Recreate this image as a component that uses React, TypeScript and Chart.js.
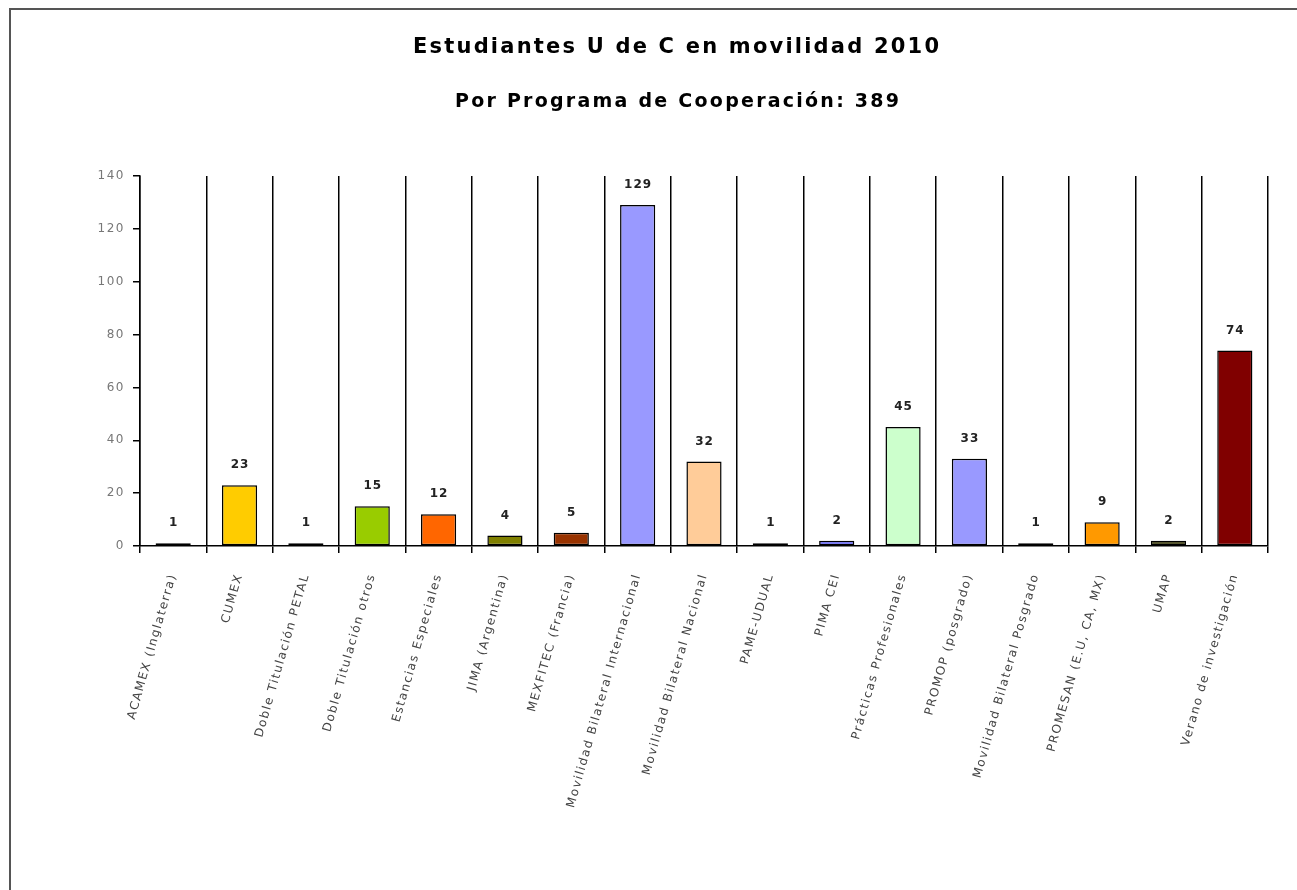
import React, { useEffect, useRef } from "react";
import { Chart, registerables } from "chart.js";

Chart.register(...registerables);

const titleText = "Estudiantes U de C en movilidad 2010";
const subtitleText = "Por Programa de Cooperación: 389";

const categories = [
  "ACAMEX (Inglaterra)",
  "CUMEX",
  "Doble Titulación PETAL",
  "Doble Titulación otros",
  "Estancias Especiales",
  "JIMA (Argentina)",
  "MEXFITEC (Francia)",
  "Movilidad Bilateral Internacional",
  "Movilidad Bilateral Nacional",
  "PAME-UDUAL",
  "PIMA CEI",
  "Prácticas Profesionales",
  "PROMOP (posgrado)",
  "Movilidad Bilateral Posgrado",
  "PROMESAN (E.U, CA, MX)",
  "UMAP",
  "Verano de investigación",
];

const values = [1, 23, 1, 15, 12, 4, 5, 129, 32, 1, 2, 45, 33, 1, 9, 2, 74];

const barColors = [
  "#FFFF99",
  "#FFCC00",
  "#CCFFCC",
  "#99CC00",
  "#FF6600",
  "#808000",
  "#993300",
  "#9999FF",
  "#FFCC99",
  "#CC66FF",
  "#6666FF",
  "#CCFFCC",
  "#9999FF",
  "#66AAEE",
  "#FF9900",
  "#333300",
  "#800000",
];

const yMin = 0;
const yMax = 140;
const yStep = 20;

function drawSpaced(ctx: CanvasRenderingContext2D, text: string, cx: number, cy: number, font: string, targetWidth: number) {
  ctx.save();
  ctx.font = font;
  (ctx as any).letterSpacing = "0px";
  const w0 = ctx.measureText(text).width;
  const sp = (targetWidth - w0) / Math.max(1, text.length - 1);
  (ctx as any).letterSpacing = sp + "px";
  ctx.fillStyle = "#000";
  ctx.textAlign = "left";
  ctx.textBaseline = "middle";
  ctx.fillText(text, cx - targetWidth / 2, cy);
  ctx.restore();
}

const framePlugin = {
  id: "frameAndTitles",
  beforeDraw(chart: any) {
    const ctx = chart.ctx as CanvasRenderingContext2D;
    ctx.save();
    ctx.fillStyle = "#fff";
    ctx.fillRect(0, 0, chart.width, chart.height);
    ctx.strokeStyle = "#555";
    ctx.lineWidth = 2;
    ctx.beginPath();
    ctx.moveTo(10, chart.height + 5);
    ctx.lineTo(10, 9);
    ctx.lineTo(chart.width + 5, 9);
    ctx.stroke();
    ctx.restore();
    drawSpaced(ctx, titleText, 676, 48, 'bold 21px "DejaVu Sans"', 526);
    drawSpaced(ctx, subtitleText, 677, 102, 'bold 19px "DejaVu Sans"', 444);
    (ctx as any).letterSpacing = "1.5px";
  },
  afterDraw(chart: any) {
    (chart.ctx as any).letterSpacing = "0px";
  },
};

const valueLabelPlugin = {
  id: "valueLabels",
  afterDatasetsDraw(chart: any) {
    const ctx = chart.ctx as CanvasRenderingContext2D;
    const meta = chart.getDatasetMeta(0);
    ctx.save();
    ctx.font = 'bold 12px "DejaVu Sans"';
    (ctx as any).letterSpacing = "1px";
    ctx.fillStyle = "#222";
    ctx.textAlign = "center";
    ctx.textBaseline = "middle";
    meta.data.forEach((bar: any, i: number) => {
      ctx.fillText(String(values[i]), bar.x + 0.5, bar.y - 20);
    });
    ctx.restore();
  },
};

export default function App() {
  const ref = useRef<HTMLCanvasElement | null>(null);

  useEffect(() => {
    if (!ref.current) return;
    const chart = new Chart(ref.current, {
      type: "bar",
      data: {
        labels: categories,
        datasets: [
          {
            data: values,
            backgroundColor: barColors,
            borderColor: "#000",
            borderWidth: 1.5,
            borderSkipped: false,
            barPercentage: 0.53,
            categoryPercentage: 1,
          },
        ],
      },
      options: {
        responsive: false,
        animation: false,
        devicePixelRatio: 1,
        layout: { padding: { left: 0, right: 29, top: 176, bottom: 0 } },
        plugins: {
          legend: { display: false },
          title: { display: false },
          tooltip: { enabled: false },
        },
        scales: {
          x: {
            offset: true,
            grid: {
              offset: true,
              display: true,
              drawOnChartArea: true,
              drawTicks: true,
              tickLength: 7,
              color: "#000",
              lineWidth: 1.5,
            },
            border: { display: true, color: "#000", width: 1.5 },
            ticks: {
              autoSkip: false,
              minRotation: 74,
              maxRotation: 74,
              padding: 19,
              color: "#444",
              font: { family: "DejaVu Sans", size: 12 },
            },
            afterFit(scale: any) {
              scale.height = 344;
            },
          },
          y: {
            min: yMin,
            max: yMax,
            grid: {
              display: true,
              drawOnChartArea: false,
              drawTicks: true,
              tickLength: 7,
              color: "#000",
              lineWidth: 1.5,
            },
            border: { display: true, color: "#000", width: 1.5 },
            ticks: {
              stepSize: yStep,
              padding: 8,
              color: "#777",
              font: { family: "DejaVu Sans", size: 12 },
            },
            afterFit(scale: any) {
              scale.width = 140;
            },
          },
        },
      },
      plugins: [framePlugin, valueLabelPlugin],
    });
    return () => chart.destroy();
  }, []);

  return (
    <div style={{ position: "fixed", inset: 0, overflow: "hidden", background: "#fff" }}>
      <canvas ref={ref} width={1297} height={890} style={{ display: "block" }} />
    </div>
  );
}
